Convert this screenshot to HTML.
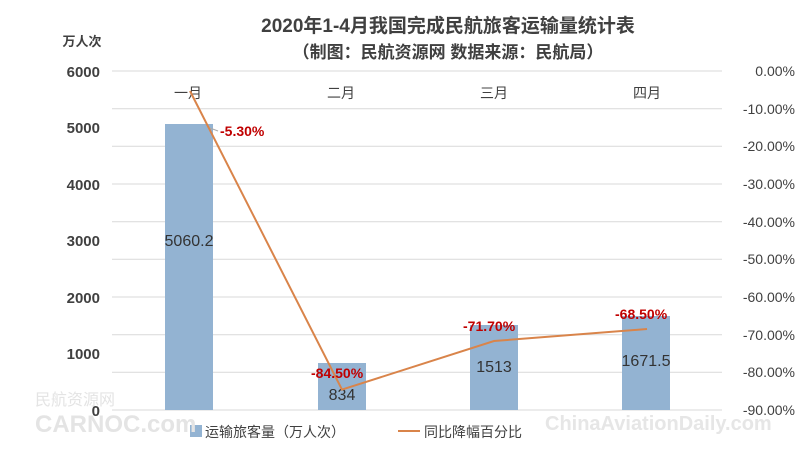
<!DOCTYPE html><html><head><meta charset="utf-8"><style>body{margin:0;background:#fff}svg text{font-family:"Liberation Sans","Noto Sans CJK SC",sans-serif}</style></head><body>
<svg width="800" height="450" xmlns="http://www.w3.org/2000/svg">
<rect width="800" height="450" fill="#fff"/>
<text x="448" y="32" font-size="19" fill="#404040" text-anchor="middle" font-weight="bold">2020年1-4月我国完成民航旅客运输量统计表</text>
<text x="448" y="58" font-size="17" fill="#404040" text-anchor="middle" font-weight="bold">（制图：民航资源网 数据来源：民航局）</text>
<text x="82" y="46" font-size="13" fill="#404040" text-anchor="middle" font-weight="bold">万人次</text>
<g stroke="#d9d9d9" stroke-width="1">
<line x1="112" y1="71" x2="722" y2="71"/><line x1="112" y1="108.7" x2="722" y2="108.7"/><line x1="112" y1="146.3" x2="722" y2="146.3"/><line x1="112" y1="184" x2="722" y2="184"/><line x1="112" y1="221.7" x2="722" y2="221.7"/><line x1="112" y1="259.3" x2="722" y2="259.3"/><line x1="112" y1="297" x2="722" y2="297"/><line x1="112" y1="334.7" x2="722" y2="334.7"/><line x1="112" y1="372.3" x2="722" y2="372.3"/><line x1="112" y1="410" x2="722" y2="410"/>
</g>
<g font-size="15" fill="#404040" text-anchor="end" font-weight="bold">
<text x="100" y="77">6000</text><text x="100" y="133">5000</text><text x="100" y="190">4000</text><text x="100" y="246">3000</text><text x="100" y="303">2000</text><text x="100" y="359">1000</text><text x="100" y="416">0</text>
</g>
<g font-size="14" fill="#404040" text-anchor="end">
<text x="795" y="76">0.00%</text><text x="795" y="114">-10.00%</text><text x="795" y="151">-20.00%</text><text x="795" y="189">-30.00%</text><text x="795" y="227">-40.00%</text><text x="795" y="264">-50.00%</text><text x="795" y="302">-60.00%</text><text x="795" y="340">-70.00%</text><text x="795" y="377">-80.00%</text><text x="795" y="415">-90.00%</text>
</g>
<g fill="#93b3d2">
<rect x="165" y="124" width="48" height="286"/><rect x="318" y="363" width="48" height="47"/><rect x="470" y="325" width="48" height="85"/><rect x="622" y="316" width="48" height="94"/>
</g>
<g font-size="14" fill="#404040" text-anchor="middle">
<text x="188" y="98">一月</text><text x="341" y="98">二月</text><text x="494" y="98">三月</text><text x="647" y="98">四月</text>
</g>
<g font-size="16" fill="#333" text-anchor="middle">
<text x="189" y="246">5060.2</text><text x="342" y="400">834</text><text x="494" y="372">1513</text><text x="646" y="366">1671.5</text>
</g>
<polyline points="190,91 342,389.6 494,341 647,329" fill="none" stroke="#d9844a" stroke-width="2"/>
<line x1="210" y1="128" x2="218" y2="131" stroke="#aaa"/>
<g font-size="14" fill="#c00000" font-weight="bold">
<text x="220" y="136">-5.30%</text><text x="311" y="378">-84.50%</text><text x="463" y="331">-71.70%</text><text x="615" y="319">-68.50%</text>
</g>
<rect x="190" y="425" width="12" height="12" fill="#93b3d2"/>
<text x="205" y="437" font-size="14" fill="#404040">运输旅客量（万人次）</text>
<line x1="398" y1="431" x2="420" y2="431" stroke="#d9844a" stroke-width="2"/>
<text x="424" y="437" font-size="14" fill="#404040">同比降幅百分比</text>
<text x="35" y="405" font-size="16" fill="#e4e4e4">民航资源网</text>
<text x="35" y="432" font-size="24" fill="#e4e4e4" font-weight="bold">CARNOC.com</text>
<text x="545" y="430" font-size="20" fill="#e6e6e6" font-weight="bold">ChinaAviationDaily.com</text>
</svg></body></html>
